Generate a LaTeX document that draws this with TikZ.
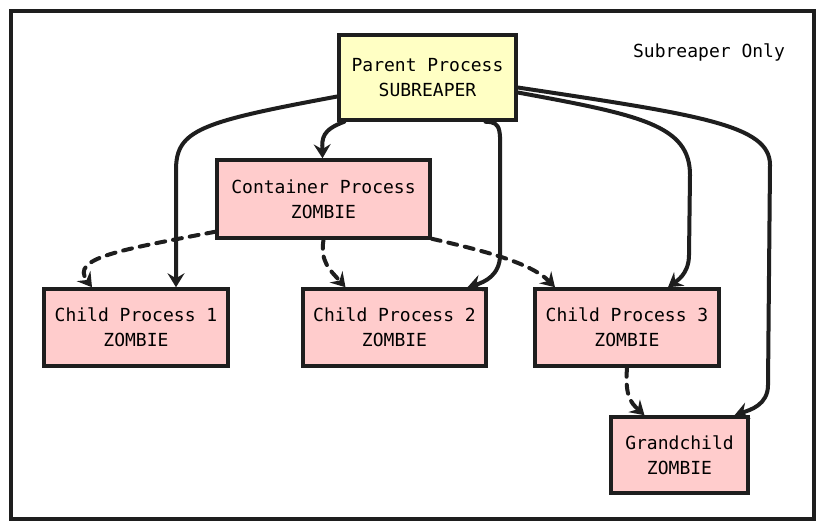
\documentclass[tikz,border=0pt]{standalone}
\usepackage{fontspec}
\setmonofont{DejaVu Sans Mono}
\usetikzlibrary{arrows.meta,positioning}
\definecolor{zombiepink}{HTML}{FFCCCC}
\definecolor{reaperyellow}{HTML}{FFFFC4}
\definecolor{ink}{HTML}{1E1E1E}
\begin{document}
\begin{tikzpicture}[x=1pt,y=-1pt,
  font=\ttfamily\fontsize{18}{25}\selectfont,
  box/.style={draw=ink,line width=3.5pt,align=center,inner sep=0pt},
  zombie/.style={box,fill=zombiepink},
  reaper/.style={box,fill=reaperyellow},
  tree/.style={draw=ink,line width=4pt,line cap=round,
    -{Stealth[length=14pt,width=17pt,inset=5pt]}},
  orphan/.style={tree,dash pattern=on 9pt off 8pt}]
\useasboundingbox (0,0) rectangle (824,529);
\draw[ink,line width=3.5pt,fill=white] (11,11) rectangle (814,519);
\node (only) at (709,52) {Subreaper Only};
% processes
\node[reaper,minimum width=177pt,minimum height=85pt] (parent) at (427.5,77.5) {Parent Process\\SUBREAPER};
\node[zombie,minimum width=213pt,minimum height=78pt] (container) at (323.5,199) {Container Process\\ZOMBIE};
\node[zombie,minimum width=184pt,minimum height=77pt] (child1) at (136,327.5) {Child Process 1\\ZOMBIE};
\node[zombie,minimum width=183pt,minimum height=77pt] (child2) at (394.5,327.5) {Child Process 2\\ZOMBIE};
\node[zombie,minimum width=184pt,minimum height=77pt] (child3) at (627,327.5) {Child Process 3\\ZOMBIE};
\node[zombie,minimum width=137pt,minimum height=76pt] (grandchild) at (679.5,455) {Grandchild\\ZOMBIE};
% reaped by the subreaper
\draw[tree] ([xshift=7pt]parent.south west) .. controls (322,130) and (322,138) .. ([xshift=-1pt]container.north);
\draw[tree] ([yshift=-19pt]parent.west) .. controls (200,122) and (176,130) .. (176,170) -- ([xshift=40pt]child1.north);
\draw[tree] ([xshift=58pt]parent.south) .. controls (503,122) and (500,130) .. (500,170) -- (500,255) .. controls (500,275) and (485,282) .. ([xshift=73pt]child2.north);
\draw[tree] ([yshift=-15pt]parent.east) .. controls (640,115) and (690,125) .. (690,175) -- (689,255) .. controls (689,275) and (675,282) .. ([xshift=41pt]child3.north);
\draw[tree] ([yshift=-10pt]parent.east) .. controls (700,115) and (770,125) .. (770,165) -- (768,385) .. controls (768,405) and (750,410) .. ([xshift=55pt]grandchild.north);
% orphaned children
\draw[orphan] ([yshift=8pt]container.south west) .. controls (120,250) and (70,258) .. ([xshift=-44pt]child1.north);
\draw[orphan] (container.south) .. controls (320,262) and (330,270) .. ([xshift=-49pt]child2.north);
\draw[orphan] ([yshift=1pt]container.south east) .. controls (480,250) and (530,262) .. ([xshift=-72pt]child3.north);
\draw[orphan] (child3.south) .. controls (625,395) and (630,402) .. ([xshift=-35pt]grandchild.north);
\end{tikzpicture}
\end{document}
